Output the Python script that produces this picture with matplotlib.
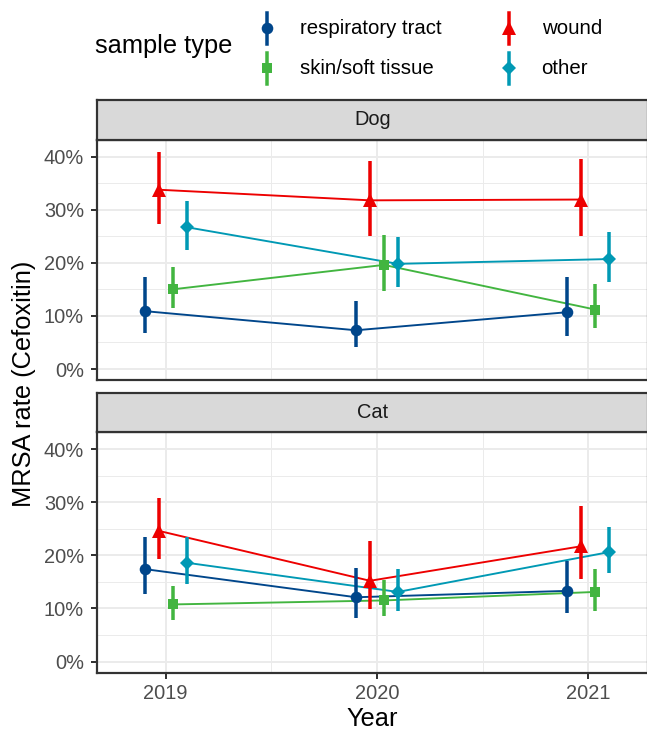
import matplotlib
matplotlib.use("Agg")
import matplotlib.pyplot as plt
from matplotlib.ticker import FixedLocator, FuncFormatter

plt.rcParams['font.family'] = ['Liberation Sans', 'DejaVu Sans']

# ---------------- data ----------------
years = [2019, 2020, 2021]
sample_types = ['respiratory tract', 'skin/soft tissue', 'wound', 'other']
species = ['Dog', 'Cat']

dog_resp_est = [10.9, 7.3, 10.7]
dog_resp_lo = [6.7, 4.1, 6.3]
dog_resp_hi = [17.4, 12.9, 17.3]
dog_skin_est = [15.0, 19.6, 11.2]
dog_skin_lo = [11.5, 14.75, 7.7]
dog_skin_hi = [19.25, 25.3, 16.1]
dog_wound_est = [33.75, 31.75, 31.9]
dog_wound_lo = [27.25, 25.0, 25.0]
dog_wound_hi = [40.9, 39.2, 39.6]
dog_other_est = [26.7, 19.8, 20.7]
dog_other_lo = [22.4, 15.5, 16.3]
dog_other_hi = [31.6, 24.9, 25.8]

cat_resp_est = [17.4, 12.1, 13.3]
cat_resp_lo = [12.75, 8.2, 9.2]
cat_resp_hi = [23.4, 17.7, 19.0]
cat_skin_est = [10.75, 11.5, 13.1]
cat_skin_lo = [7.9, 8.5, 9.6]
cat_skin_hi = [14.2, 15.3, 17.4]
cat_wound_est = [24.6, 15.2, 21.7]
cat_wound_lo = [19.3, 9.8, 15.5]
cat_wound_hi = [30.7, 22.6, 29.3]
cat_other_est = [18.6, 13.1, 20.6]
cat_other_lo = [14.6, 9.5, 16.7]
cat_other_hi = [23.4, 17.4, 25.3]

y_ticks = [0, 10, 20, 30, 40]
x_ticks = years

data = {
    'Dog': {
        'respiratory tract': (dog_resp_est, dog_resp_lo, dog_resp_hi),
        'skin/soft tissue': (dog_skin_est, dog_skin_lo, dog_skin_hi),
        'wound': (dog_wound_est, dog_wound_lo, dog_wound_hi),
        'other': (dog_other_est, dog_other_lo, dog_other_hi),
    },
    'Cat': {
        'respiratory tract': (cat_resp_est, cat_resp_lo, cat_resp_hi),
        'skin/soft tissue': (cat_skin_est, cat_skin_lo, cat_skin_hi),
        'wound': (cat_wound_est, cat_wound_lo, cat_wound_hi),
        'other': (cat_other_est, cat_other_lo, cat_other_hi),
    },
}

# ---------------- style ----------------
colors = {'respiratory tract': '#00468B', 'skin/soft tissue': '#42B540',
          'wound': '#ED0000', 'other': '#0099B4'}
markers = {'respiratory tract': 'o', 'skin/soft tissue': 's',
           'wound': '^', 'other': 'D'}
msizes = {'respiratory tract': 5.8, 'skin/soft tissue': 5.2,
          'wound': 6.8, 'other': 5.0}
dodge_order = ['respiratory tract', 'wound', 'skin/soft tissue', 'other']
dodge_step = 0.066

W, H = 647, 730
DPI = 144
fig = plt.figure(figsize=(W / DPI, H / DPI), dpi=DPI)
fig.patch.set_facecolor('white')

left_px, right_px = 97, 648
left = left_px / W
width = (right_px - left_px) / W
strip_h = 39.5 / H
panels = {'Dog': (380, 139.5), 'Cat': (672.5, 432)}  # bottom px, top px

grey20 = '#333333'
tick_col = '#4D4D4D'
TICK_FS = 10.0
TITLE_FS = 12.7

for sp in species:
    bpx, tpx = panels[sp]
    ax = fig.add_axes([left, 1 - bpx / H, width, (bpx - tpx) / H])
    sax = fig.add_axes([left, 1 - tpx / H, width, strip_h])

    # strip
    sax.set_facecolor('#D9D9D9')
    sax.set_xticks([])
    sax.set_yticks([])
    for s in sax.spines.values():
        s.set_color(grey20)
        s.set_linewidth(1.1)
    sax.text(0.5, 0.5, sp, transform=sax.transAxes, ha='center',
             va='center', fontsize=TICK_FS, color='#1A1A1A')

    ax.set_xlim(2018.675, 2021.283)
    ax.set_ylim(-2.06, 43.2)
    ax.set_facecolor('white')
    ax.xaxis.set_major_locator(FixedLocator(x_ticks))
    ax.xaxis.set_minor_locator(FixedLocator([2019.5, 2020.5]))
    ax.yaxis.set_major_locator(FixedLocator(y_ticks))
    ax.yaxis.set_minor_locator(FixedLocator([5, 15, 25, 35]))
    ax.yaxis.set_major_formatter(FuncFormatter(lambda v, p: f"{v:.0f}%"))
    ax.grid(True, which='major', color='#EBEBEB', linewidth=1.0, zorder=0)
    ax.grid(True, which='minor', color='#EBEBEB', linewidth=0.5, zorder=0)
    ax.set_axisbelow(True)
    ax.tick_params(which='major', length=3.15, width=1.0, color=grey20,
                   labelsize=TICK_FS, labelcolor=tick_col)
    ax.tick_params(axis='y', which='major', pad=3.3)
    ax.tick_params(axis='x', which='major', pad=2.6)
    ax.tick_params(which='minor', length=0)
    for s in ax.spines.values():
        s.set_color(grey20)
        s.set_linewidth(1.1)
    if sp == 'Dog':
        ax.tick_params(axis='x', which='major', labelbottom=False, length=0)

    for i, st in enumerate(dodge_order):
        est, lo, hi = data[sp][st]
        off = (i - 1.5) * dodge_step
        xs = [y + off for y in years]
        c = colors[st]
        ax.plot(xs, est, color=c, linewidth=0.95, zorder=3)
        ax.vlines(xs, lo, hi, color=c, linewidth=1.75, zorder=4)
        ax.plot(xs, est, linestyle='none', marker=markers[st],
                markersize=msizes[st], color=c, markeredgewidth=0, zorder=5)

# axis titles
fig.text((left_px + right_px) / 2 / W, 1 - 719 / H, 'Year', ha='center',
         va='center', fontsize=TITLE_FS, color='black')
fig.text(24 / W, 1 - 384 / H, 'MRSA rate (Cefoxitin)', ha='center',
         va='center', rotation=90, fontsize=TITLE_FS, color='black')

# legend (manual, top)
lax = fig.add_axes([0, 0, 1, 1])
lax.set_xlim(0, W)
lax.set_ylim(H, 0)
lax.axis('off')
lax.text(95, 46.5, 'sample type', ha='left', va='center', fontsize=TITLE_FS,
         color='black')
legend_layout = [('respiratory tract', 266.5, 28.3), ('skin/soft tissue', 266.5, 68.0),
                 ('wound', 508.6, 28.3), ('other', 508.6, 68.0)]
for st, kx, ky in legend_layout:
    c = colors[st]
    lax.plot([kx, kx], [ky - 15.5, ky + 15.5], color=c, linewidth=1.75)
    lax.plot([kx], [ky], marker=markers[st], markersize=msizes[st],
             color=c, markeredgewidth=0, linestyle='none')
    lax.text(kx + 33, ky, st, ha='left', va='center', fontsize=10.2,
             color='black')

fig.savefig('out.png', dpi=DPI, facecolor='white')
